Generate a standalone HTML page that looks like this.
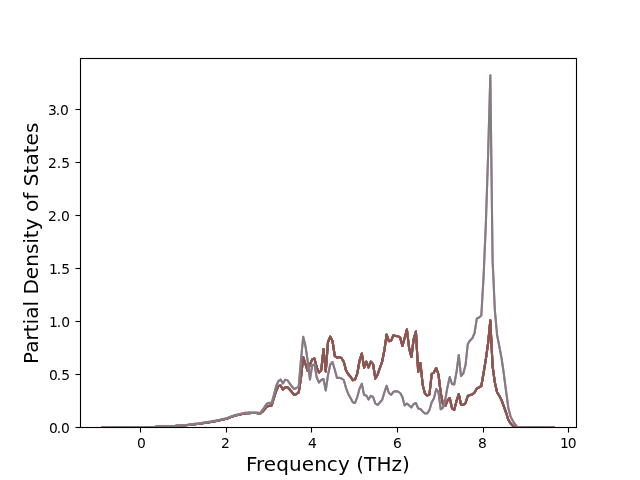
<!DOCTYPE html>
<html lang="en"><head><meta charset="utf-8"><title>Partial Density of States</title>
<style>
html,body{margin:0;padding:0;background:#fff;}
body{width:640px;height:480px;overflow:hidden;}
svg{display:block;}
text{font-family:"DejaVu Sans","Liberation Sans",sans-serif;fill:#000;}
.tick{font-size:13.889px;}
.lab{font-size:20px;}
.curve{fill:none;stroke-width:2.0833;stroke-linejoin:round;stroke-linecap:square;}
</style></head><body>
<svg width="640" height="480" viewBox="0 0 640 480">
<rect x="0" y="0" width="640" height="480" fill="#ffffff"/>
<defs><clipPath id="ax"><rect x="80" y="57.6" width="496" height="369.6"/></clipPath></defs>
<g clip-path="url(#ax)">
<polyline class="curve" stroke="#1f77b4" points="102.55,427.20 104.80,427.20 107.05,427.20 109.31,427.20 111.56,427.20 113.82,427.20 116.07,427.20 118.33,427.20 120.58,427.20 122.84,427.20 125.09,427.20 127.35,427.20 129.60,427.20 131.85,427.20 134.11,427.20 136.36,427.20 138.62,427.20 140.87,427.20 143.13,427.20 145.38,427.20 147.64,427.15 149.89,427.11 152.15,427.06 154.40,426.97 156.65,426.89 158.91,426.80 161.16,426.68 163.42,426.57 165.67,426.45 167.93,426.32 170.18,426.19 172.44,426.06 174.69,425.98 176.95,425.90 179.20,425.82 181.45,425.61 183.71,425.39 185.96,425.17 188.22,424.95 190.47,424.73 192.73,424.50 194.98,424.27 197.24,424.03 199.49,423.80 201.75,423.44 204.00,423.08 206.25,422.72 208.51,422.36 210.76,422.00 213.02,421.57 215.27,421.15 217.53,420.73 219.78,420.30 222.04,419.77 224.29,419.23 226.55,418.70 228.80,417.90 231.05,417.10 233.31,416.25 235.56,415.40 237.82,414.90 240.07,414.40 242.33,413.90 244.58,413.40 246.84,413.27 249.09,413.13 251.35,413.00 253.60,413.00 255.85,413.00 258.11,413.25 260.36,413.50 262.62,411.50 264.87,409.00 267.13,406.50 269.38,405.80 271.64,405.50 273.89,398.00 276.15,391.00 278.40,386.00 280.65,385.50 282.91,389.50 285.16,387.20 287.42,387.20 289.67,389.50 291.93,392.00 294.18,395.00 296.44,394.00 298.69,392.50 300.95,378.00 303.20,357.10 305.45,364.00 307.71,371.00 309.96,364.50 312.22,359.40 314.47,358.50 316.73,367.50 318.98,372.50 321.24,370.00 323.49,349.00 325.75,371.50 328.00,342.00 330.25,336.70 332.51,341.00 334.76,356.00 337.02,357.80 339.27,357.00 341.53,358.20 343.78,361.80 346.04,370.40 348.29,374.20 350.55,376.70 352.80,380.30 355.05,379.40 357.31,373.50 359.56,360.50 361.82,353.50 364.07,367.50 366.33,361.70 368.58,367.50 370.84,361.60 373.09,364.10 375.35,378.50 377.60,374.70 379.85,368.00 382.11,361.80 384.36,350.50 386.62,334.50 388.87,341.10 391.13,340.70 393.38,335.30 395.64,336.00 397.89,336.10 400.15,337.60 402.40,346.00 404.65,338.00 406.91,329.50 409.16,348.60 411.42,357.00 413.67,339.00 415.93,331.50 418.18,372.00 420.44,363.00 422.69,385.00 424.95,393.50 427.20,395.50 429.45,394.50 431.71,374.00 433.96,372.30 436.22,368.00 438.47,374.50 440.73,393.00 442.98,404.30 445.24,406.00 447.49,400.50 449.75,398.00 452.00,408.30 454.25,409.80 456.51,401.00 458.76,394.00 461.02,404.50 463.27,405.00 465.53,403.00 467.78,396.00 470.04,395.00 472.29,394.50 474.55,392.50 476.80,388.50 479.05,387.30 481.31,386.00 483.56,373.30 485.82,359.30 488.07,343.30 490.33,320.30 492.58,366.00 494.84,382.50 497.09,392.30 499.35,395.80 501.60,400.30 503.85,406.30 506.11,412.80 508.36,419.90 510.62,423.50 512.87,425.80 515.13,427.00 517.38,427.20 519.64,427.20 521.89,427.20 524.15,427.20 526.40,427.20 528.65,427.20 530.91,427.20 533.16,427.20 535.42,427.20 537.67,427.20 539.93,427.20 542.18,427.20 544.44,427.20 546.69,427.20 548.95,427.20 551.20,427.20 553.45,427.20"/>
<polyline class="curve" stroke="#ff7f0e" points="102.55,427.20 104.80,427.20 107.05,427.20 109.31,427.20 111.56,427.20 113.82,427.20 116.07,427.20 118.33,427.20 120.58,427.20 122.84,427.20 125.09,427.20 127.35,427.20 129.60,427.20 131.85,427.20 134.11,427.20 136.36,427.20 138.62,427.20 140.87,427.20 143.13,427.20 145.38,427.20 147.64,427.15 149.89,427.11 152.15,427.06 154.40,426.97 156.65,426.89 158.91,426.80 161.16,426.68 163.42,426.57 165.67,426.45 167.93,426.32 170.18,426.19 172.44,426.06 174.69,425.98 176.95,425.90 179.20,425.82 181.45,425.61 183.71,425.39 185.96,425.17 188.22,424.95 190.47,424.73 192.73,424.50 194.98,424.27 197.24,424.03 199.49,423.80 201.75,423.44 204.00,423.08 206.25,422.72 208.51,422.36 210.76,422.00 213.02,421.57 215.27,421.15 217.53,420.73 219.78,420.30 222.04,419.77 224.29,419.23 226.55,418.70 228.80,417.90 231.05,417.10 233.31,416.25 235.56,415.40 237.82,414.90 240.07,414.40 242.33,413.90 244.58,413.40 246.84,413.27 249.09,413.13 251.35,413.00 253.60,413.00 255.85,413.00 258.11,413.25 260.36,413.50 262.62,411.50 264.87,409.00 267.13,406.50 269.38,405.80 271.64,405.50 273.89,398.00 276.15,391.00 278.40,386.00 280.65,385.50 282.91,389.50 285.16,387.20 287.42,387.20 289.67,389.50 291.93,392.00 294.18,395.00 296.44,394.00 298.69,392.50 300.95,378.00 303.20,357.10 305.45,364.00 307.71,371.00 309.96,364.50 312.22,359.40 314.47,358.50 316.73,367.50 318.98,372.50 321.24,370.00 323.49,349.00 325.75,371.50 328.00,342.00 330.25,336.70 332.51,341.00 334.76,356.00 337.02,357.80 339.27,357.00 341.53,358.20 343.78,361.80 346.04,370.40 348.29,374.20 350.55,376.70 352.80,380.30 355.05,379.40 357.31,373.50 359.56,360.50 361.82,353.50 364.07,367.50 366.33,361.70 368.58,367.50 370.84,361.60 373.09,364.10 375.35,378.50 377.60,374.70 379.85,368.00 382.11,361.80 384.36,350.50 386.62,334.50 388.87,341.10 391.13,340.70 393.38,335.30 395.64,336.00 397.89,336.10 400.15,337.60 402.40,346.00 404.65,338.00 406.91,329.50 409.16,348.60 411.42,357.00 413.67,339.00 415.93,331.50 418.18,372.00 420.44,363.00 422.69,385.00 424.95,393.50 427.20,395.50 429.45,394.50 431.71,374.00 433.96,372.30 436.22,368.00 438.47,374.50 440.73,393.00 442.98,404.30 445.24,406.00 447.49,400.50 449.75,398.00 452.00,408.30 454.25,409.80 456.51,401.00 458.76,394.00 461.02,404.50 463.27,405.00 465.53,403.00 467.78,396.00 470.04,395.00 472.29,394.50 474.55,392.50 476.80,388.50 479.05,387.30 481.31,386.00 483.56,373.30 485.82,359.30 488.07,343.30 490.33,320.30 492.58,366.00 494.84,382.50 497.09,392.30 499.35,395.80 501.60,400.30 503.85,406.30 506.11,412.80 508.36,419.90 510.62,423.50 512.87,425.80 515.13,427.00 517.38,427.20 519.64,427.20 521.89,427.20 524.15,427.20 526.40,427.20 528.65,427.20 530.91,427.20 533.16,427.20 535.42,427.20 537.67,427.20 539.93,427.20 542.18,427.20 544.44,427.20 546.69,427.20 548.95,427.20 551.20,427.20 553.45,427.20"/>
<polyline class="curve" stroke="#2ca02c" points="102.55,427.20 104.80,427.20 107.05,427.20 109.31,427.20 111.56,427.20 113.82,427.20 116.07,427.20 118.33,427.20 120.58,427.20 122.84,427.20 125.09,427.20 127.35,427.20 129.60,427.20 131.85,427.20 134.11,427.20 136.36,427.20 138.62,427.20 140.87,427.20 143.13,427.20 145.38,427.20 147.64,427.15 149.89,427.11 152.15,427.06 154.40,426.97 156.65,426.89 158.91,426.80 161.16,426.68 163.42,426.57 165.67,426.45 167.93,426.32 170.18,426.19 172.44,426.06 174.69,425.98 176.95,425.90 179.20,425.82 181.45,425.61 183.71,425.39 185.96,425.17 188.22,424.95 190.47,424.73 192.73,424.50 194.98,424.27 197.24,424.03 199.49,423.80 201.75,423.44 204.00,423.08 206.25,422.72 208.51,422.36 210.76,422.00 213.02,421.57 215.27,421.15 217.53,420.73 219.78,420.30 222.04,419.77 224.29,419.23 226.55,418.70 228.80,417.90 231.05,417.10 233.31,416.25 235.56,415.40 237.82,414.90 240.07,414.40 242.33,413.90 244.58,413.40 246.84,413.27 249.09,413.13 251.35,413.00 253.60,413.00 255.85,413.00 258.11,413.25 260.36,413.50 262.62,411.50 264.87,409.00 267.13,406.50 269.38,405.80 271.64,405.50 273.89,398.00 276.15,391.00 278.40,386.00 280.65,385.50 282.91,389.50 285.16,387.20 287.42,387.20 289.67,389.50 291.93,392.00 294.18,395.00 296.44,394.00 298.69,392.50 300.95,378.00 303.20,357.10 305.45,364.00 307.71,371.00 309.96,364.50 312.22,359.40 314.47,358.50 316.73,367.50 318.98,372.50 321.24,370.00 323.49,349.00 325.75,371.50 328.00,342.00 330.25,336.70 332.51,341.00 334.76,356.00 337.02,357.80 339.27,357.00 341.53,358.20 343.78,361.80 346.04,370.40 348.29,374.20 350.55,376.70 352.80,380.30 355.05,379.40 357.31,373.50 359.56,360.50 361.82,353.50 364.07,367.50 366.33,361.70 368.58,367.50 370.84,361.60 373.09,364.10 375.35,378.50 377.60,374.70 379.85,368.00 382.11,361.80 384.36,350.50 386.62,334.50 388.87,341.10 391.13,340.70 393.38,335.30 395.64,336.00 397.89,336.10 400.15,337.60 402.40,346.00 404.65,338.00 406.91,329.50 409.16,348.60 411.42,357.00 413.67,339.00 415.93,331.50 418.18,372.00 420.44,363.00 422.69,385.00 424.95,393.50 427.20,395.50 429.45,394.50 431.71,374.00 433.96,372.30 436.22,368.00 438.47,374.50 440.73,393.00 442.98,404.30 445.24,406.00 447.49,400.50 449.75,398.00 452.00,408.30 454.25,409.80 456.51,401.00 458.76,394.00 461.02,404.50 463.27,405.00 465.53,403.00 467.78,396.00 470.04,395.00 472.29,394.50 474.55,392.50 476.80,388.50 479.05,387.30 481.31,386.00 483.56,373.30 485.82,359.30 488.07,343.30 490.33,320.30 492.58,366.00 494.84,382.50 497.09,392.30 499.35,395.80 501.60,400.30 503.85,406.30 506.11,412.80 508.36,419.90 510.62,423.50 512.87,425.80 515.13,427.00 517.38,427.20 519.64,427.20 521.89,427.20 524.15,427.20 526.40,427.20 528.65,427.20 530.91,427.20 533.16,427.20 535.42,427.20 537.67,427.20 539.93,427.20 542.18,427.20 544.44,427.20 546.69,427.20 548.95,427.20 551.20,427.20 553.45,427.20"/>
<polyline class="curve" stroke="#d62728" points="102.55,427.20 104.80,427.20 107.05,427.20 109.31,427.20 111.56,427.20 113.82,427.20 116.07,427.20 118.33,427.20 120.58,427.20 122.84,427.20 125.09,427.20 127.35,427.20 129.60,427.20 131.85,427.20 134.11,427.20 136.36,427.20 138.62,427.20 140.87,427.20 143.13,427.20 145.38,427.20 147.64,427.15 149.89,427.11 152.15,427.06 154.40,426.97 156.65,426.89 158.91,426.80 161.16,426.68 163.42,426.57 165.67,426.45 167.93,426.32 170.18,426.19 172.44,426.06 174.69,425.98 176.95,425.90 179.20,425.82 181.45,425.61 183.71,425.39 185.96,425.17 188.22,424.95 190.47,424.73 192.73,424.50 194.98,424.27 197.24,424.03 199.49,423.80 201.75,423.44 204.00,423.08 206.25,422.72 208.51,422.36 210.76,422.00 213.02,421.57 215.27,421.15 217.53,420.73 219.78,420.30 222.04,419.77 224.29,419.23 226.55,418.70 228.80,417.90 231.05,417.10 233.31,416.25 235.56,415.40 237.82,414.90 240.07,414.40 242.33,413.90 244.58,413.40 246.84,413.27 249.09,413.13 251.35,413.00 253.60,413.00 255.85,413.00 258.11,413.25 260.36,413.50 262.62,411.50 264.87,409.00 267.13,406.50 269.38,405.80 271.64,405.50 273.89,398.00 276.15,391.00 278.40,386.00 280.65,385.50 282.91,389.50 285.16,387.20 287.42,387.20 289.67,389.50 291.93,392.00 294.18,395.00 296.44,394.00 298.69,392.50 300.95,378.00 303.20,357.10 305.45,364.00 307.71,371.00 309.96,364.50 312.22,359.40 314.47,358.50 316.73,367.50 318.98,372.50 321.24,370.00 323.49,349.00 325.75,371.50 328.00,342.00 330.25,336.70 332.51,341.00 334.76,356.00 337.02,357.80 339.27,357.00 341.53,358.20 343.78,361.80 346.04,370.40 348.29,374.20 350.55,376.70 352.80,380.30 355.05,379.40 357.31,373.50 359.56,360.50 361.82,353.50 364.07,367.50 366.33,361.70 368.58,367.50 370.84,361.60 373.09,364.10 375.35,378.50 377.60,374.70 379.85,368.00 382.11,361.80 384.36,350.50 386.62,334.50 388.87,341.10 391.13,340.70 393.38,335.30 395.64,336.00 397.89,336.10 400.15,337.60 402.40,346.00 404.65,338.00 406.91,329.50 409.16,348.60 411.42,357.00 413.67,339.00 415.93,331.50 418.18,372.00 420.44,363.00 422.69,385.00 424.95,393.50 427.20,395.50 429.45,394.50 431.71,374.00 433.96,372.30 436.22,368.00 438.47,374.50 440.73,393.00 442.98,404.30 445.24,406.00 447.49,400.50 449.75,398.00 452.00,408.30 454.25,409.80 456.51,401.00 458.76,394.00 461.02,404.50 463.27,405.00 465.53,403.00 467.78,396.00 470.04,395.00 472.29,394.50 474.55,392.50 476.80,388.50 479.05,387.30 481.31,386.00 483.56,373.30 485.82,359.30 488.07,343.30 490.33,320.30 492.58,366.00 494.84,382.50 497.09,392.30 499.35,395.80 501.60,400.30 503.85,406.30 506.11,412.80 508.36,419.90 510.62,423.50 512.87,425.80 515.13,427.00 517.38,427.20 519.64,427.20 521.89,427.20 524.15,427.20 526.40,427.20 528.65,427.20 530.91,427.20 533.16,427.20 535.42,427.20 537.67,427.20 539.93,427.20 542.18,427.20 544.44,427.20 546.69,427.20 548.95,427.20 551.20,427.20 553.45,427.20"/>
<polyline class="curve" stroke="#9467bd" points="102.55,427.20 104.80,427.20 107.05,427.20 109.31,427.20 111.56,427.20 113.82,427.20 116.07,427.20 118.33,427.20 120.58,427.20 122.84,427.20 125.09,427.20 127.35,427.20 129.60,427.20 131.85,427.20 134.11,427.20 136.36,427.20 138.62,427.20 140.87,427.20 143.13,427.20 145.38,427.20 147.64,427.15 149.89,427.11 152.15,427.06 154.40,426.97 156.65,426.89 158.91,426.80 161.16,426.68 163.42,426.57 165.67,426.45 167.93,426.32 170.18,426.19 172.44,426.06 174.69,425.98 176.95,425.90 179.20,425.82 181.45,425.61 183.71,425.39 185.96,425.17 188.22,424.95 190.47,424.73 192.73,424.50 194.98,424.27 197.24,424.03 199.49,423.80 201.75,423.44 204.00,423.08 206.25,422.72 208.51,422.36 210.76,422.00 213.02,421.57 215.27,421.15 217.53,420.73 219.78,420.30 222.04,419.77 224.29,419.23 226.55,418.70 228.80,417.90 231.05,417.10 233.31,416.25 235.56,415.40 237.82,414.90 240.07,414.40 242.33,413.90 244.58,413.40 246.84,413.27 249.09,413.13 251.35,413.00 253.60,413.00 255.85,413.00 258.11,413.25 260.36,413.50 262.62,411.50 264.87,409.00 267.13,406.50 269.38,405.80 271.64,405.50 273.89,398.00 276.15,391.00 278.40,386.00 280.65,385.50 282.91,389.50 285.16,387.20 287.42,387.20 289.67,389.50 291.93,392.00 294.18,395.00 296.44,394.00 298.69,392.50 300.95,378.00 303.20,357.10 305.45,364.00 307.71,371.00 309.96,364.50 312.22,359.40 314.47,358.50 316.73,367.50 318.98,372.50 321.24,370.00 323.49,349.00 325.75,371.50 328.00,342.00 330.25,336.70 332.51,341.00 334.76,356.00 337.02,357.80 339.27,357.00 341.53,358.20 343.78,361.80 346.04,370.40 348.29,374.20 350.55,376.70 352.80,380.30 355.05,379.40 357.31,373.50 359.56,360.50 361.82,353.50 364.07,367.50 366.33,361.70 368.58,367.50 370.84,361.60 373.09,364.10 375.35,378.50 377.60,374.70 379.85,368.00 382.11,361.80 384.36,350.50 386.62,334.50 388.87,341.10 391.13,340.70 393.38,335.30 395.64,336.00 397.89,336.10 400.15,337.60 402.40,346.00 404.65,338.00 406.91,329.50 409.16,348.60 411.42,357.00 413.67,339.00 415.93,331.50 418.18,372.00 420.44,363.00 422.69,385.00 424.95,393.50 427.20,395.50 429.45,394.50 431.71,374.00 433.96,372.30 436.22,368.00 438.47,374.50 440.73,393.00 442.98,404.30 445.24,406.00 447.49,400.50 449.75,398.00 452.00,408.30 454.25,409.80 456.51,401.00 458.76,394.00 461.02,404.50 463.27,405.00 465.53,403.00 467.78,396.00 470.04,395.00 472.29,394.50 474.55,392.50 476.80,388.50 479.05,387.30 481.31,386.00 483.56,373.30 485.82,359.30 488.07,343.30 490.33,320.30 492.58,366.00 494.84,382.50 497.09,392.30 499.35,395.80 501.60,400.30 503.85,406.30 506.11,412.80 508.36,419.90 510.62,423.50 512.87,425.80 515.13,427.00 517.38,427.20 519.64,427.20 521.89,427.20 524.15,427.20 526.40,427.20 528.65,427.20 530.91,427.20 533.16,427.20 535.42,427.20 537.67,427.20 539.93,427.20 542.18,427.20 544.44,427.20 546.69,427.20 548.95,427.20 551.20,427.20 553.45,427.20"/>
<polyline class="curve" stroke="#8c564b" points="102.55,427.20 104.80,427.20 107.05,427.20 109.31,427.20 111.56,427.20 113.82,427.20 116.07,427.20 118.33,427.20 120.58,427.20 122.84,427.20 125.09,427.20 127.35,427.20 129.60,427.20 131.85,427.20 134.11,427.20 136.36,427.20 138.62,427.20 140.87,427.20 143.13,427.20 145.38,427.20 147.64,427.15 149.89,427.11 152.15,427.06 154.40,426.97 156.65,426.89 158.91,426.80 161.16,426.68 163.42,426.57 165.67,426.45 167.93,426.32 170.18,426.19 172.44,426.06 174.69,425.98 176.95,425.90 179.20,425.82 181.45,425.61 183.71,425.39 185.96,425.17 188.22,424.95 190.47,424.73 192.73,424.50 194.98,424.27 197.24,424.03 199.49,423.80 201.75,423.44 204.00,423.08 206.25,422.72 208.51,422.36 210.76,422.00 213.02,421.57 215.27,421.15 217.53,420.73 219.78,420.30 222.04,419.77 224.29,419.23 226.55,418.70 228.80,417.90 231.05,417.10 233.31,416.25 235.56,415.40 237.82,414.90 240.07,414.40 242.33,413.90 244.58,413.40 246.84,413.27 249.09,413.13 251.35,413.00 253.60,413.00 255.85,413.00 258.11,413.25 260.36,413.50 262.62,411.50 264.87,409.00 267.13,406.50 269.38,405.80 271.64,405.50 273.89,398.00 276.15,391.00 278.40,386.00 280.65,385.50 282.91,389.50 285.16,387.20 287.42,387.20 289.67,389.50 291.93,392.00 294.18,395.00 296.44,394.00 298.69,392.50 300.95,378.00 303.20,357.10 305.45,364.00 307.71,371.00 309.96,364.50 312.22,359.40 314.47,358.50 316.73,367.50 318.98,372.50 321.24,370.00 323.49,349.00 325.75,371.50 328.00,342.00 330.25,336.70 332.51,341.00 334.76,356.00 337.02,357.80 339.27,357.00 341.53,358.20 343.78,361.80 346.04,370.40 348.29,374.20 350.55,376.70 352.80,380.30 355.05,379.40 357.31,373.50 359.56,360.50 361.82,353.50 364.07,367.50 366.33,361.70 368.58,367.50 370.84,361.60 373.09,364.10 375.35,378.50 377.60,374.70 379.85,368.00 382.11,361.80 384.36,350.50 386.62,334.50 388.87,341.10 391.13,340.70 393.38,335.30 395.64,336.00 397.89,336.10 400.15,337.60 402.40,346.00 404.65,338.00 406.91,329.50 409.16,348.60 411.42,357.00 413.67,339.00 415.93,331.50 418.18,372.00 420.44,363.00 422.69,385.00 424.95,393.50 427.20,395.50 429.45,394.50 431.71,374.00 433.96,372.30 436.22,368.00 438.47,374.50 440.73,393.00 442.98,404.30 445.24,406.00 447.49,400.50 449.75,398.00 452.00,408.30 454.25,409.80 456.51,401.00 458.76,394.00 461.02,404.50 463.27,405.00 465.53,403.00 467.78,396.00 470.04,395.00 472.29,394.50 474.55,392.50 476.80,388.50 479.05,387.30 481.31,386.00 483.56,373.30 485.82,359.30 488.07,343.30 490.33,320.30 492.58,366.00 494.84,382.50 497.09,392.30 499.35,395.80 501.60,400.30 503.85,406.30 506.11,412.80 508.36,419.90 510.62,423.50 512.87,425.80 515.13,427.00 517.38,427.20 519.64,427.20 521.89,427.20 524.15,427.20 526.40,427.20 528.65,427.20 530.91,427.20 533.16,427.20 535.42,427.20 537.67,427.20 539.93,427.20 542.18,427.20 544.44,427.20 546.69,427.20 548.95,427.20 551.20,427.20 553.45,427.20"/>
<polyline class="curve" stroke="#e377c2" points="102.55,427.20 104.80,427.20 107.05,427.20 109.31,427.20 111.56,427.20 113.82,427.20 116.07,427.20 118.33,427.20 120.58,427.20 122.84,427.20 125.09,427.20 127.35,427.20 129.60,427.20 131.85,427.20 134.11,427.20 136.36,427.20 138.62,427.20 140.87,427.20 143.13,427.20 145.38,427.20 147.64,427.15 149.89,427.11 152.15,427.06 154.40,426.97 156.65,426.89 158.91,426.80 161.16,426.68 163.42,426.57 165.67,426.45 167.93,426.32 170.18,426.19 172.44,426.06 174.69,425.94 176.95,425.82 179.20,425.70 181.45,425.44 183.71,425.18 185.96,424.92 188.22,424.66 190.47,424.40 192.73,424.12 194.98,423.85 197.24,423.57 199.49,423.30 201.75,422.94 204.00,422.58 206.25,422.22 208.51,421.86 210.76,421.50 213.02,421.07 215.27,420.65 217.53,420.23 219.78,419.80 222.04,419.27 224.29,418.73 226.55,418.20 228.80,417.40 231.05,416.60 233.31,415.75 235.56,414.90 237.82,414.40 240.07,413.90 242.33,413.40 244.58,412.90 246.84,412.77 249.09,412.63 251.35,412.50 253.60,412.50 255.85,412.50 258.11,412.75 260.36,413.00 262.62,410.00 264.87,406.50 267.13,403.50 269.38,402.80 271.64,403.00 273.89,395.00 276.15,386.00 278.40,381.20 280.65,379.50 282.91,383.50 285.16,379.80 287.42,380.20 289.67,383.50 291.93,386.50 294.18,389.00 296.44,388.00 298.69,386.50 300.95,360.00 303.20,336.80 305.45,346.00 307.71,361.00 309.96,379.50 312.22,365.00 314.47,364.50 316.73,377.50 318.98,382.50 321.24,380.00 323.49,379.00 325.75,390.50 328.00,375.00 330.25,364.50 332.51,362.00 334.76,369.50 337.02,378.00 339.27,377.80 341.53,378.50 343.78,380.00 346.04,388.00 348.29,394.00 350.55,398.00 352.80,402.20 355.05,403.00 357.31,397.00 359.56,388.60 361.82,383.80 364.07,395.00 366.33,395.50 368.58,399.50 370.84,395.80 373.09,397.00 375.35,403.50 377.60,405.00 379.85,402.50 382.11,400.00 384.36,392.50 386.62,385.80 388.87,393.00 391.13,394.80 393.38,391.80 395.64,391.20 397.89,391.50 400.15,393.00 402.40,397.00 404.65,405.50 406.91,403.50 409.16,405.50 411.42,407.50 413.67,404.00 415.93,403.00 418.18,408.50 420.44,409.00 422.69,411.50 424.95,413.50 427.20,413.50 429.45,410.00 431.71,402.30 433.96,398.20 436.22,389.00 438.47,392.00 440.73,409.30 442.98,407.60 445.24,399.60 447.49,387.00 449.75,377.00 452.00,384.00 454.25,384.50 456.51,372.00 458.76,355.00 461.02,376.00 463.27,373.50 465.53,365.00 467.78,344.00 470.04,340.40 472.29,338.30 474.55,333.00 476.80,318.70 479.05,317.50 481.31,315.50 483.56,277.00 485.82,224.50 488.07,156.00 490.33,75.20 492.58,260.00 494.84,310.00 497.09,335.00 499.35,346.50 501.60,358.50 503.85,374.00 506.11,391.50 508.36,408.00 510.62,416.80 512.87,421.00 515.13,424.30 517.38,427.10 519.64,427.20 521.89,427.20 524.15,427.20 526.40,427.20 528.65,427.20 530.91,427.20 533.16,427.20 535.42,427.20 537.67,427.20 539.93,427.20 542.18,427.20 544.44,427.20 546.69,427.20 548.95,427.20 551.20,427.20 553.45,427.20"/>
<polyline class="curve" stroke="#7f7f7f" points="102.55,427.20 104.80,427.20 107.05,427.20 109.31,427.20 111.56,427.20 113.82,427.20 116.07,427.20 118.33,427.20 120.58,427.20 122.84,427.20 125.09,427.20 127.35,427.20 129.60,427.20 131.85,427.20 134.11,427.20 136.36,427.20 138.62,427.20 140.87,427.20 143.13,427.20 145.38,427.20 147.64,427.15 149.89,427.11 152.15,427.06 154.40,426.97 156.65,426.89 158.91,426.80 161.16,426.68 163.42,426.57 165.67,426.45 167.93,426.32 170.18,426.19 172.44,426.06 174.69,425.94 176.95,425.82 179.20,425.70 181.45,425.44 183.71,425.18 185.96,424.92 188.22,424.66 190.47,424.40 192.73,424.12 194.98,423.85 197.24,423.57 199.49,423.30 201.75,422.94 204.00,422.58 206.25,422.22 208.51,421.86 210.76,421.50 213.02,421.07 215.27,420.65 217.53,420.23 219.78,419.80 222.04,419.27 224.29,418.73 226.55,418.20 228.80,417.40 231.05,416.60 233.31,415.75 235.56,414.90 237.82,414.40 240.07,413.90 242.33,413.40 244.58,412.90 246.84,412.77 249.09,412.63 251.35,412.50 253.60,412.50 255.85,412.50 258.11,412.75 260.36,413.00 262.62,410.00 264.87,406.50 267.13,403.50 269.38,402.80 271.64,403.00 273.89,395.00 276.15,386.00 278.40,381.20 280.65,379.50 282.91,383.50 285.16,379.80 287.42,380.20 289.67,383.50 291.93,386.50 294.18,389.00 296.44,388.00 298.69,386.50 300.95,360.00 303.20,336.80 305.45,346.00 307.71,361.00 309.96,379.50 312.22,365.00 314.47,364.50 316.73,377.50 318.98,382.50 321.24,380.00 323.49,379.00 325.75,390.50 328.00,375.00 330.25,364.50 332.51,362.00 334.76,369.50 337.02,378.00 339.27,377.80 341.53,378.50 343.78,380.00 346.04,388.00 348.29,394.00 350.55,398.00 352.80,402.20 355.05,403.00 357.31,397.00 359.56,388.60 361.82,383.80 364.07,395.00 366.33,395.50 368.58,399.50 370.84,395.80 373.09,397.00 375.35,403.50 377.60,405.00 379.85,402.50 382.11,400.00 384.36,392.50 386.62,385.80 388.87,393.00 391.13,394.80 393.38,391.80 395.64,391.20 397.89,391.50 400.15,393.00 402.40,397.00 404.65,405.50 406.91,403.50 409.16,405.50 411.42,407.50 413.67,404.00 415.93,403.00 418.18,408.50 420.44,409.00 422.69,411.50 424.95,413.50 427.20,413.50 429.45,410.00 431.71,402.30 433.96,398.20 436.22,389.00 438.47,392.00 440.73,409.30 442.98,407.60 445.24,399.60 447.49,387.00 449.75,377.00 452.00,384.00 454.25,384.50 456.51,372.00 458.76,355.00 461.02,376.00 463.27,373.50 465.53,365.00 467.78,344.00 470.04,340.40 472.29,338.30 474.55,333.00 476.80,318.70 479.05,317.50 481.31,315.50 483.56,277.00 485.82,224.50 488.07,156.00 490.33,75.20 492.58,260.00 494.84,310.00 497.09,335.00 499.35,346.50 501.60,358.50 503.85,374.00 506.11,391.50 508.36,408.00 510.62,416.80 512.87,421.00 515.13,424.30 517.38,427.10 519.64,427.20 521.89,427.20 524.15,427.20 526.40,427.20 528.65,427.20 530.91,427.20 533.16,427.20 535.42,427.20 537.67,427.20 539.93,427.20 542.18,427.20 544.44,427.20 546.69,427.20 548.95,427.20 551.20,427.20 553.45,427.20"/>
</g>
<g shape-rendering="crispEdges">
<rect x="79" y="57" width="499" height="1" fill="#f1f1f1"/>
<rect x="79" y="59" width="499" height="1" fill="#f1f1f1"/>
<rect x="79" y="426" width="499" height="1" fill="#000" fill-opacity="0.055"/>
<rect x="79" y="428" width="499" height="1" fill="#f1f1f1"/>
<rect x="79" y="57" width="1" height="372" fill="#f1f1f1"/>
<rect x="81" y="57" width="1" height="372" fill="#000" fill-opacity="0.055"/>
<rect x="575" y="57" width="1" height="372" fill="#000" fill-opacity="0.055"/>
<rect x="577" y="57" width="1" height="372" fill="#f1f1f1"/>
<rect x="139" y="428" width="3" height="4" fill="#000" fill-opacity="0.055"/>
<rect x="139" y="432" width="3" height="1" fill="#000" fill-opacity="0.027"/>
<rect x="140" y="427" width="1" height="5" fill="#000"/>
<rect x="140" y="432" width="1" height="1" fill="#7f7f7f"/>
<rect x="225" y="428" width="3" height="4" fill="#000" fill-opacity="0.055"/>
<rect x="225" y="432" width="3" height="1" fill="#000" fill-opacity="0.027"/>
<rect x="226" y="427" width="1" height="5" fill="#000"/>
<rect x="226" y="432" width="1" height="1" fill="#7f7f7f"/>
<rect x="310" y="428" width="3" height="4" fill="#000" fill-opacity="0.055"/>
<rect x="310" y="432" width="3" height="1" fill="#000" fill-opacity="0.027"/>
<rect x="311" y="427" width="1" height="5" fill="#000"/>
<rect x="311" y="432" width="1" height="1" fill="#7f7f7f"/>
<rect x="396" y="428" width="3" height="4" fill="#000" fill-opacity="0.055"/>
<rect x="396" y="432" width="3" height="1" fill="#000" fill-opacity="0.027"/>
<rect x="397" y="427" width="1" height="5" fill="#000"/>
<rect x="397" y="432" width="1" height="1" fill="#7f7f7f"/>
<rect x="482" y="428" width="3" height="4" fill="#000" fill-opacity="0.055"/>
<rect x="482" y="432" width="3" height="1" fill="#000" fill-opacity="0.027"/>
<rect x="483" y="427" width="1" height="5" fill="#000"/>
<rect x="483" y="432" width="1" height="1" fill="#7f7f7f"/>
<rect x="567" y="428" width="3" height="4" fill="#000" fill-opacity="0.055"/>
<rect x="567" y="432" width="3" height="1" fill="#000" fill-opacity="0.027"/>
<rect x="568" y="427" width="1" height="5" fill="#000"/>
<rect x="568" y="432" width="1" height="1" fill="#7f7f7f"/>
<rect x="76" y="426" width="4" height="3" fill="#000" fill-opacity="0.055"/>
<rect x="75" y="426" width="1" height="3" fill="#000" fill-opacity="0.027"/>
<rect x="76" y="427" width="5" height="1" fill="#000"/>
<rect x="75" y="427" width="1" height="1" fill="#7f7f7f"/>
<rect x="76" y="373" width="4" height="3" fill="#000" fill-opacity="0.055"/>
<rect x="75" y="373" width="1" height="3" fill="#000" fill-opacity="0.027"/>
<rect x="76" y="374" width="5" height="1" fill="#000"/>
<rect x="75" y="374" width="1" height="1" fill="#7f7f7f"/>
<rect x="76" y="320" width="4" height="3" fill="#000" fill-opacity="0.055"/>
<rect x="75" y="320" width="1" height="3" fill="#000" fill-opacity="0.027"/>
<rect x="76" y="321" width="5" height="1" fill="#000"/>
<rect x="75" y="321" width="1" height="1" fill="#7f7f7f"/>
<rect x="76" y="267" width="4" height="3" fill="#000" fill-opacity="0.055"/>
<rect x="75" y="267" width="1" height="3" fill="#000" fill-opacity="0.027"/>
<rect x="76" y="268" width="5" height="1" fill="#000"/>
<rect x="75" y="268" width="1" height="1" fill="#7f7f7f"/>
<rect x="76" y="214" width="4" height="3" fill="#000" fill-opacity="0.055"/>
<rect x="75" y="214" width="1" height="3" fill="#000" fill-opacity="0.027"/>
<rect x="76" y="215" width="5" height="1" fill="#000"/>
<rect x="75" y="215" width="1" height="1" fill="#7f7f7f"/>
<rect x="76" y="161" width="4" height="3" fill="#000" fill-opacity="0.055"/>
<rect x="75" y="161" width="1" height="3" fill="#000" fill-opacity="0.027"/>
<rect x="76" y="162" width="5" height="1" fill="#000"/>
<rect x="75" y="162" width="1" height="1" fill="#7f7f7f"/>
<rect x="76" y="108" width="4" height="3" fill="#000" fill-opacity="0.055"/>
<rect x="75" y="108" width="1" height="3" fill="#000" fill-opacity="0.027"/>
<rect x="76" y="109" width="5" height="1" fill="#000"/>
<rect x="75" y="109" width="1" height="1" fill="#7f7f7f"/>
<rect x="80" y="58" width="497" height="1" fill="#000"/>
<rect x="80" y="427" width="497" height="1" fill="#000"/>
<rect x="80" y="58" width="1" height="370" fill="#000"/>
<rect x="576" y="58" width="1" height="370" fill="#000"/>
</g>
<text class="tick" x="136.9" y="447.5">0</text>
<text class="tick" x="220.91" y="447.5">2</text>
<text class="tick" x="307.96" y="447.5">4</text>
<text class="tick" x="392.96" y="447.5">6</text>
<text class="tick" x="477.92" y="447.5">8</text>
<text class="tick" x="559.99 567.8" y="447.5">10</text>
<text class="tick" x="49.12 56.68 61.11" y="432.5">0.0</text>
<text class="tick" x="49 56.81 61.23" y="379.5">0.5</text>
<text class="tick" x="49 56.81 61.23" y="326.5">1.0</text>
<text class="tick" x="49 56.81 61.23" y="273.5">1.5</text>
<text class="tick" x="48.12 56.68 61.11" y="220.5">2.0</text>
<text class="tick" x="48 56.81 61.23" y="167.5">2.5</text>
<text class="tick" x="48.12 55.68 60.11" y="114.5">3.0</text>
<text class="lab" x="245.98 255.9 263.8 276.23 289.05 301.73 314.29 326.71 337.96 349.79 356.15 363.95 376.41 391.46 401.96" y="470.6">Frequency (THz)</text>
<text class="lab" x="-364.08 -352.67 -340.55 -332.31 -324.49 -318.8 -306.55 -300.86 -294.5 -279.35 -266.67 -254 -243.7 -238.14 -230.3 -218.47 -212.11 -199.63 -192.83 -186.22 -173.53 -165.44 -153.19 -145.6 -133.03" y="37.5" transform="rotate(-90)">Partial Density of States</text>
</svg>
</body></html>
